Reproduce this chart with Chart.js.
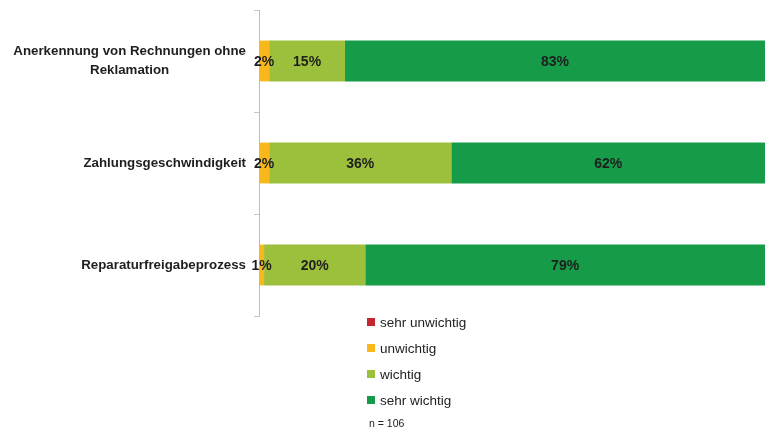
<!DOCTYPE html>
<html>
<head>
<meta charset="utf-8">
<script src="https://cdn.jsdelivr.net/npm/chart.js@4.4.1/dist/chart.umd.min.js"></script>
<style>
  html, body { margin: 0; padding: 0; background: #fff; }
  #wrap { width: 765px; height: 432px; }
</style>
</head>
<body>
<div id="wrap"><canvas id="chart"></canvas></div>
<script>
const categories = [
    ["Anerkennung von Rechnungen ohne", "Reklamation"],
    ["Zahlungsgeschwindigkeit"],
    ["Reparaturfreigabeprozess"],
];
const seriesNames = ["sehr unwichtig", "unwichtig", "wichtig", "sehr wichtig"];
const sehrUnwichtig = [0, 0, 0];
const unwichtig = [2, 2, 1];
const wichtig = [15, 36, 20];
const sehrWichtig = [83, 62, 79];
const colors = ["#c3262e", "#f8b81b", "#9dc03c", "#169b48"];
const footNote = "n = 106";

const FONT = "'Liberation Sans', Arial, sans-serif";

const labelPlugin = {
    id: "labels",
    afterDatasetsDraw(chart) {
        const ctx = chart.ctx;
        ctx.save();
        ctx.fillStyle = "#1e1e1e";
        ctx.font = "bold 14px " + FONT;
        ctx.textAlign = "center";
        ctx.textBaseline = "middle";
        chart.data.datasets.forEach((ds, i) => {
            const meta = chart.getDatasetMeta(i);
            meta.data.forEach((bar, j) => {
                const v = ds.data[j];
                if (!v) return;
                const p = bar.getCenterPoint();
                ctx.fillText(v + "%", p.x, p.y + 1);
            });
        });

        // category labels: right-aligned block, lines centred
        const yScale = chart.scales.y;
        const right = chart.chartArea.left - 13;
        ctx.font = "bold 13.3px " + FONT;
        const lh = 19;
        categories.forEach((lines, i) => {
            const widest = Math.max(...lines.map((l) => ctx.measureText(l).width));
            const cx = right - widest / 2;
            const cy = yScale.getPixelForValue(i);
            lines.forEach((l, k) => {
                ctx.fillText(l, cx, cy + (k - (lines.length - 1) / 2) * lh);
            });
        });

        // legend
        const lx = chart.chartArea.left + 108;
        let ly = chart.chartArea.bottom + 6;
        ctx.textAlign = "left";
        ctx.font = "13.5px " + FONT;
        chart.data.datasets.forEach((ds) => {
            ctx.fillStyle = ds.backgroundColor;
            ctx.fillRect(lx, ly - 4, 8, 8);
            ctx.fillStyle = "#222";
            ctx.fillText(ds.label, lx + 13, ly + 1);
            ly += 26;
        });
        ctx.font = "10.5px " + FONT;
        ctx.fillText(footNote, lx + 2, ly - 2);
        ctx.restore();
    },
};

const ctx = document.getElementById("chart").getContext("2d");
const chart = new Chart(ctx, {
    type: "bar",
    data: {
        labels: categories,
        datasets: [sehrUnwichtig, unwichtig, wichtig, sehrWichtig].map((d, i) => ({
            label: seriesNames[i],
            data: d,
            backgroundColor: colors[i],
            borderWidth: 0,
            barPercentage: 1,
            categoryPercentage: 0.4,
        })),
    },
    options: {
        indexAxis: "y",
        responsive: true,
        maintainAspectRatio: false,
        animation: false,
        layout: { padding: { left: 0, right: 0, top: 10, bottom: 116 } },
        plugins: {
            legend: { display: false },
            tooltip: { enabled: false },
        },
        scales: {
            x: {
                stacked: true,
                min: 0,
                max: 100,
                display: false,
            },
            y: {
                stacked: true,
                offset: true,
                afterFit: (s) => { s.width = 259; },
                ticks: { display: false },
                grid: {
                    offset: true,
                    drawOnChartArea: false,
                    tickLength: 5,
                    color: "#c8c8c8",
                },
                border: { color: "#bdbdbd", width: 1 },
            },
        },
    },
    plugins: [labelPlugin],
});
</script>
</body>
</html>
